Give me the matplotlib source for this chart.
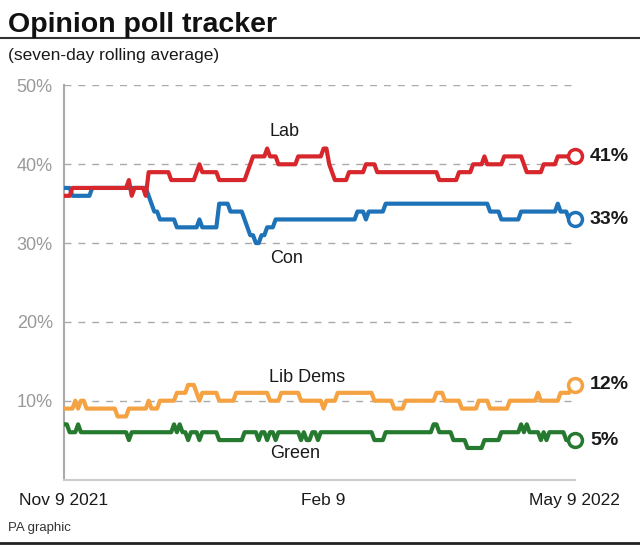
import numpy as np
import matplotlib.pyplot as plt
from matplotlib.lines import Line2D

plt.rcParams['font.family'] = ['Liberation Sans', 'DejaVu Sans']

# daily values, stored as (value, number of days) runs, Nov 9 2021 -> May 9 2022
lab_vals = [36, 37, 38, 36, 37, 36, 39, 38, 39, 40, 39, 38, 39, 40, 41, 42, 41, 40,
            41, 42, 40, 39, 38, 39, 40, 39, 38, 39, 40, 41, 40, 41, 40, 39, 40, 41]
lab_days = [3, 20, 1, 1, 4, 1, 8, 9, 1, 1, 6, 10, 1, 1, 5, 1, 3, 7,
            9, 2, 1, 1, 5, 6, 4, 22, 7, 5, 4, 1, 6, 7, 1, 6, 5, 7]

con_vals = [37, 36, 37, 36, 35, 34, 33, 32, 33, 32, 35, 34, 33, 32, 31, 30, 31, 32,
            33, 34, 33, 34, 35, 34, 33, 34, 35, 34, 33]
con_days = [3, 7, 20, 1, 1, 2, 6, 8, 1, 6, 4, 5, 1, 1, 2, 2, 2, 3,
            29, 3, 1, 6, 37, 4, 7, 13, 1, 3, 3]

ld_vals = [9, 10, 9, 10, 9, 8, 9, 10, 9, 10, 11, 12, 11, 10, 11, 10, 11, 10,
           11, 10, 9, 10, 11, 10, 9, 10, 11, 10, 9, 10, 9, 10, 11, 10, 11, 12]
ld_days = [4, 1, 1, 2, 11, 4, 7, 1, 3, 6, 4, 3, 1, 1, 6, 6, 12, 4,
           7, 8, 1, 4, 13, 7, 4, 11, 3, 6, 6, 4, 7, 10, 1, 7, 4, 2]

grn_vals = [7, 6, 7, 6, 5, 6, 7, 6, 7, 6, 5, 6, 5, 6, 5, 6, 5, 6, 5, 6, 5, 6,
            5, 6, 5, 6, 5, 6, 5, 6, 7, 6, 5, 4, 5, 6, 7, 6, 7, 6, 5, 6, 5, 6, 5]
grn_days = [2, 3, 1, 17, 1, 15, 1, 1, 1, 2, 1, 3, 1, 6, 9, 5, 1, 2, 1, 2, 1, 8,
            1, 1, 2, 2, 1, 19, 4, 17, 2, 5, 5, 6, 6, 7, 1, 1, 1, 4, 1, 1, 1, 6, 4]

parties = ["Lab", "Con", "Lib Dems", "Green"]
colors = ["#d7272c", "#1e72b7", "#f5a243", "#267a30"]
tick_labels = ["Nov 9 2021", "Feb 9", "May 9 2022"]
tick_days = [0, 92, 181]

series = [np.repeat(lab_vals, lab_days), np.repeat(con_vals, con_days),
          np.repeat(ld_vals, ld_days), np.repeat(grn_vals, grn_days)]

fig = plt.figure(figsize=(6.4, 5.48), dpi=100)
ax = fig.add_axes([0.1, 0.125, 0.798, 0.719])

for y in [10, 20, 30, 40, 50]:
    ax.axhline(y, color="#aaaaaa", lw=1, ls=(0, (5, 5)), zorder=1)

# Lab drawn on top of Con where they overlap
zorders = [4, 3, 3, 3]
for vals, col, z in zip(series, colors, zorders):
    days = np.arange(len(vals))
    ax.plot(days, vals, color=col, lw=3, solid_joinstyle="round",
            solid_capstyle="butt", zorder=z)
    ax.plot(days[-1], vals[-1], "o", ms=10, mfc="white", mec=col, mew=2.5,
            zorder=5, clip_on=False)
    ax.annotate(f"{vals[-1]}%", (days[-1], vals[-1]), xytext=(11, 0),
                textcoords="offset points", va="center", ha="left",
                fontsize=14, fontweight="bold", color="#1a1a1a")

# party names
name_pos = [(78, 44.2), (79, 28.0), (86, 13.0), (82, 3.3)]
for name, (d, v) in zip(parties, name_pos):
    ax.text(d, v, name, ha="center", va="center", fontsize=13, color="#1a1a1a")

ax.set_xlim(0, 181)
ax.set_ylim(0, 50)
ax.set_yticks([10, 20, 30, 40, 50])
ax.set_yticklabels(["10%", "20%", "30%", "40%", "50%"])
ax.set_xticks(tick_days)
ax.set_xticklabels(tick_labels)
ax.tick_params(axis="y", length=0, pad=8, labelsize=13, labelcolor="#999999")
ax.tick_params(axis="x", length=0, pad=10, labelsize=12.5, labelcolor="#1a1a1a")
for s in ["top", "right"]:
    ax.spines[s].set_visible(False)
ax.spines["left"].set_color("#aaaaaa")
ax.spines["bottom"].set_color("#cccccc")
ax.spines["left"].set_linewidth(1.5)
ax.spines["bottom"].set_linewidth(1.5)

fig.text(0.012, 0.978, "Opinion poll tracker", fontsize=20.5, fontweight="bold",
         ha="left", va="top", color="#111111")
fig.add_artist(Line2D([0, 1], [0.931, 0.931], color="#333333", lw=1.5))
fig.text(0.012, 0.898, "(seven-day rolling average)", fontsize=12.5, ha="left",
         va="center", color="#1a1a1a")
fig.text(0.012, 0.036, "PA graphic", fontsize=9.5, ha="left", va="center",
         color="#333333")
fig.add_artist(Line2D([0, 1], [0.009, 0.009], color="#222222", lw=2))

fig.savefig("out.png", dpi=100)
